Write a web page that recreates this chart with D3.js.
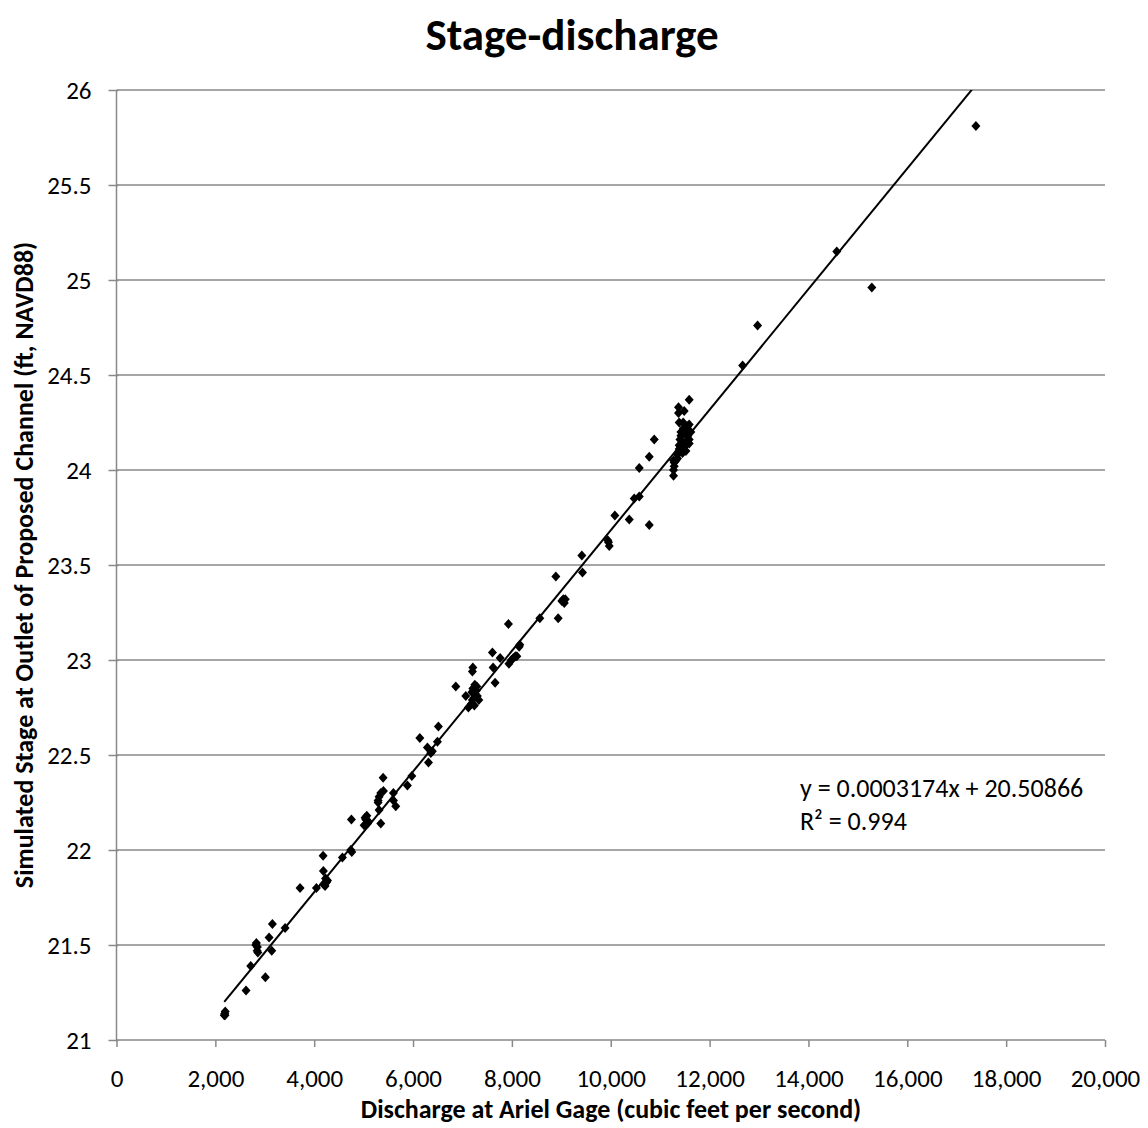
<!DOCTYPE html>
<html>
<head>
<meta charset="utf-8">
<script src="https://cdn.jsdelivr.net/npm/d3@7"></script>
<style>
    body { margin: 0; background: #fff; }
    text { font-family: Carlito, Calibri, "Open Sans", sans-serif; fill: #000; }
</style>
</head>
<body>
<svg id="chart" width="1148" height="1128"></svg>
<script>

// discharge at Ariel gage (cfs)
const discharge = [
    2180, 2190, 2200, 2195, 2621, 3012, 2716, 3141, 2830, 2850, 2845, 2820, 2860, 3087, 3154, 3411,
    3714, 4045, 4190, 4220, 4250, 4270, 4230, 4186, 4180, 4571, 4740, 4760, 4753, 5010, 5044, 5064,
    5097, 5080, 5030, 5347, 5313, 5293, 5313, 5347, 5293, 5394, 5401, 5603, 5603, 5650, 5886, 5975,
    6137, 6291, 6312, 6360, 6390, 6493, 6513, 6865, 7067, 7120, 7180, 7200, 7230, 7260, 7280, 7210,
    7250, 7300, 7330, 7240, 7190, 7290, 7201, 7210, 7606, 7620, 7660, 7762, 7940, 7990, 8030, 8070,
    8100, 8160, 8147, 7930, 8565, 8936, 8889, 9010, 9040, 9080, 9060, 9415, 9428, 9954, 9970, 9940,
    10083, 10374, 10779, 10475, 10577, 10577, 10779, 10880, 11270, 11270, 11284, 11270, 11318, 11284,
    11351, 11371, 11486, 11587, 11371, 11466, 11385, 11554, 11587, 11419, 11587, 11452, 11385, 11486,
    11587, 11385, 11452, 11520, 11420, 11500, 11560, 11400, 11470, 11540, 11620, 11350, 12668, 12971,
    14573, 15282, 17388
];

// simulated stage at outlet (ft, NAVD88)
const stage = [
    21.13, 21.14, 21.15, 21.13, 21.26, 21.33, 21.39, 21.47, 21.51, 21.49, 21.47, 21.50, 21.46, 21.54, 21.61, 21.59,
    21.80, 21.80, 21.82, 21.81, 21.83, 21.84, 21.85, 21.89, 21.97, 21.96, 22.00, 21.99, 22.16, 22.13, 22.16, 22.18,
    22.15, 22.14, 22.17, 22.14, 22.21, 22.25, 22.28, 22.30, 22.26, 22.38, 22.31, 22.30, 22.26, 22.23, 22.34, 22.39,
    22.59, 22.54, 22.46, 22.51, 22.52, 22.57, 22.65, 22.86, 22.81, 22.75, 22.77, 22.79, 22.80, 22.82, 22.84, 22.85,
    22.87, 22.81, 22.79, 22.76, 22.83, 22.86, 22.94, 22.96, 23.04, 22.96, 22.88, 23.01, 22.98, 23.00, 23.01, 23.02,
    23.02, 23.08, 23.07, 23.19, 23.22, 23.22, 23.44, 23.31, 23.32, 23.32, 23.30, 23.55, 23.46, 23.62, 23.60, 23.63,
    23.76, 23.74, 23.71, 23.85, 23.86, 24.01, 24.07, 24.16, 23.97, 24.00, 24.02, 24.05, 24.05, 24.04,
    24.08, 24.33, 24.31, 24.37, 24.30, 24.25, 24.25, 24.23, 24.24, 24.18, 24.16, 24.15, 24.13, 24.12,
    24.14, 24.11, 24.09, 24.10, 24.20, 24.19, 24.18, 24.16, 24.22, 24.21, 24.20, 24.06, 24.55, 24.76,
    25.15, 24.96, 25.81
];

// linear trendline shown on the chart
const slope = 0.0003174;
const intercept = 20.50866;
const rSquared = 0.994;

const xTicks = d3.range(0, 20001, 2000);
const yTicks = d3.range(21, 26.01, 0.5);

const title = "Stage-discharge";
const xTitle = "Discharge at Ariel Gage (cubic feet per second)";
const yTitle = "Simulated Stage at Outlet of Proposed Channel (ft, NAVD88)";

const margin = {left: 116.5, right: 1105, top: 90, bottom: 1040};
const gridColor = "#898989";

const svg = d3.select('#chart');

const x = d3.scaleLinear().domain([0, 20000]).range([margin.left, margin.right]);
const y = d3.scaleLinear().domain([21, 26]).range([margin.bottom, margin.top]);

svg.append('clipPath').attr('id', 'plotClip')
    .append('rect')
    .attr('x', margin.left).attr('y', margin.top)
    .attr('width', margin.right - margin.left).attr('height', margin.bottom - margin.top);

// horizontal gridlines
svg.append('g')
    .selectAll('line')
    .data(yTicks.slice(1))
    .enter()
    .append('line')
    .attr('x1', margin.left).attr('x2', margin.right)
    .attr('y1', (d) => y(d)).attr('y2', (d) => y(d))
    .attr('stroke', gridColor).attr('stroke-width', 1.5);

// y axis
const yAxis = svg.append('g')
    .attr('transform', `translate(${margin.left},0)`)
    .call(d3.axisLeft(y).tickValues(yTicks).tickSize(8).tickPadding(17).tickFormat(d3.format('')));
yAxis.select('.domain').attr('stroke', gridColor).attr('stroke-width', 1.5)
    .attr('d', `M0,${margin.top}V${margin.bottom}`);
yAxis.selectAll('.tick line').attr('stroke', gridColor).attr('stroke-width', 1.5).attr('x1', 2);
yAxis.selectAll('.tick text').style('font-size', '25px').attr('fill', '#000');

// x axis
const xAxis = svg.append('g')
    .attr('transform', `translate(0,${margin.bottom})`)
    .call(d3.axisBottom(x).tickValues(xTicks).tickSize(7).tickPadding(22).tickFormat(d3.format(',')));
xAxis.select('.domain').attr('stroke', gridColor).attr('stroke-width', 1.5)
    .attr('d', `M${margin.left},0H${margin.right}`);
xAxis.selectAll('.tick line').attr('stroke', gridColor).attr('stroke-width', 1.5);
xAxis.selectAll('.tick text').style('font-size', '25px').attr('fill', '#000');

// trendline
const xMin = d3.min(discharge), xMax = d3.max(discharge);
svg.append('line')
    .attr('clip-path', 'url(#plotClip)')
    .attr('x1', x(xMin)).attr('y1', y(slope * xMin + intercept))
    .attr('x2', x(xMax)).attr('y2', y(slope * xMax + intercept))
    .attr('stroke', '#000').attr('stroke-width', 2);

// points as diamonds
const points = discharge.map((d, i) => ({X: d, Y: stage[i]}));
svg.append('g')
    .selectAll('path')
    .data(points)
    .enter()
    .append('path')
    .attr('d', 'M0,-5L4.5,0L0,5L-4.5,0Z')
    .attr('transform', (d) => `translate(${x(d.X)},${y(d.Y)})`)
    .attr('fill', '#000');

// trendline label
svg.append('text')
    .attr('x', 800).attr('y', 797)
    .style('font-size', '26px')
    .text(`y = ${slope}x + ${intercept}`);
svg.append('text')
    .attr('x', 800).attr('y', 830)
    .style('font-size', '26px')
    .text(`R² = ${rSquared}`);

// titles
svg.append('text')
    .attr('x', 572).attr('y', 50)
    .attr('text-anchor', 'middle')
    .style('font-size', '45px').style('font-weight', 'bold')
    .text(title);

svg.append('text')
    .attr('x', 611).attr('y', 1118)
    .attr('text-anchor', 'middle')
    .style('font-size', '26px').style('font-weight', 'bold')
    .text(xTitle);

svg.append('text')
    .attr('transform', 'translate(33,565) rotate(-90)')
    .attr('text-anchor', 'middle')
    .style('font-size', '26px').style('font-weight', 'bold')
    .text(yTitle);

</script>
</body>
</html>
